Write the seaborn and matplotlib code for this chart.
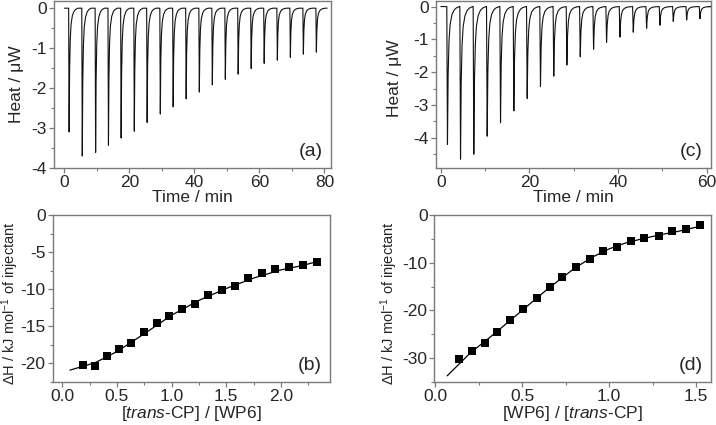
import matplotlib
matplotlib.use('Agg')
import matplotlib.pyplot as plt
from matplotlib.ticker import MultipleLocator
import pandas as pd
import seaborn as sns

# ---- raw thermograms (peak position / peak height) ----
peak_time_a = [1.45, 5.5, 9.6, 13.55, 17.45, 21.5, 25.45, 29.5, 33.45, 37.45,
               41.5, 45.5, 49.5, 53.45, 57.45, 61.45, 65.5, 69.5, 73.5, 77.5]
peak_heat_a = [-3.10, -3.70, -3.61, -3.43, -3.25, -3.08, -2.86, -2.65, -2.47, -2.27,
               -2.10, -1.92, -1.78, -1.65, -1.51, -1.38, -1.30, -1.23, -1.15, -1.10]
run_end_a = 80.8

peak_time_c = [1.5, 4.45, 7.45, 10.47, 13.48, 16.49, 19.5, 22.5, 25.5, 28.46,
               31.48, 34.49, 37.42, 40.44, 43.45, 46.46, 49.47, 52.48, 55.5, 58.5]
peak_heat_c = [-4.20, -4.65, -4.50, -3.95, -3.54, -3.18, -2.80, -2.44, -2.12, -1.78,
               -1.53, -1.30, -1.09, -0.93, -0.78, -0.66, -0.57, -0.45, -0.41, -0.37]
run_end_c = 60.6

# shape of one injection peak (min after the peak, fraction of peak height)
profile_offset = [-0.15, 0.0, 0.15, 0.35, 0.6, 1.0, 1.5, 2.0, 2.7]
profile_fraction = [0.0, 1.0, 0.5, 0.25, 0.13, 0.06, 0.025, 0.01, 0.0]

# ---- integrated heats ----
ratio_b = [0.185, 0.295, 0.408, 0.523, 0.633, 0.746, 0.865, 0.98, 1.096, 1.21,
           1.336, 1.458, 1.577, 1.701, 1.824, 1.948, 2.076, 2.204, 2.329]
dh_b = [-20.2, -20.4, -19.0, -18.1, -17.3, -15.8, -14.5, -13.6, -12.7, -11.95,
        -10.8, -10.1, -9.5, -8.5, -7.8, -7.3, -7.0, -6.7, -6.3]
fit_x_b = [0.07, 0.3, 0.5, 0.75, 1.0, 1.25, 1.5, 1.75, 2.0, 2.2, 2.35]
fit_y_b = [-20.9, -19.9, -18.4, -16.0, -13.5, -11.5, -9.9, -8.5, -7.4, -6.8, -6.2]

ratio_d = [0.136, 0.213, 0.286, 0.356, 0.433, 0.506, 0.583, 0.659, 0.732, 0.81,
           0.889, 0.966, 1.046, 1.123, 1.203, 1.284, 1.36, 1.44, 1.523]
dh_d = [-30.1, -28.5, -26.8, -24.5, -22.1, -19.7, -17.3, -15.0, -12.9, -10.9,
        -9.3, -7.6, -6.8, -5.5, -4.8, -4.3, -3.35, -2.9, -2.2]
fit_x_d = [0.07, 0.2, 0.35, 0.5, 0.65, 0.8, 0.9, 1.0, 1.1, 1.2, 1.3, 1.4, 1.53]
fit_y_d = [-33.7, -29.0, -24.6, -20.0, -15.4, -11.2, -8.9, -7.1, -5.8, -4.9, -4.1, -3.4, -2.3]

FS = 12.5
FRAME = '#7a7a7a'


def build_trace(peak_time, peak_heat, run_end):
    """Baseline with one peak per injection."""
    t, q = [0.0], [0.0]
    for tp, h in zip(peak_time, peak_heat):
        for off, f in zip(profile_offset, profile_fraction):
            t.append(tp + off)
            q.append(h * f)
    t.append(run_end)
    q.append(0.0)
    return pd.DataFrame({'time': t, 'heat': q})


def style_axes(ax, xmaj, xmin, ymaj, ymin, tag):
    for side in ax.spines.values():
        side.set_color(FRAME)
        side.set_linewidth(1.0)
    ax.xaxis.set_major_locator(MultipleLocator(xmaj))
    ax.xaxis.set_minor_locator(MultipleLocator(xmin))
    ax.yaxis.set_major_locator(MultipleLocator(ymaj))
    ax.yaxis.set_minor_locator(MultipleLocator(ymin))
    ax.tick_params(which='major', direction='out', length=3.5, width=0.9,
                   color=FRAME, labelsize=FS, pad=1.5)
    ax.tick_params(which='minor', direction='out', length=2, width=0.8, color=FRAME)
    ax.text(0.97, 0.05, tag, transform=ax.transAxes, ha='right', va='bottom', fontsize=14)


def plot_trace(ax, df, xlim, ylim, ylab_pos):
    sns.lineplot(data=df, x='time', y='heat', ax=ax, color='#111111', lw=0.8,
                 estimator=None, sort=False)
    ax.set_xlim(*xlim)
    ax.set_ylim(*ylim)
    ax.set_xlabel('Time / min', fontsize=FS, labelpad=0)
    ax.set_ylabel('Heat / μW', fontsize=FS)
    ax.yaxis.set_label_coords(*ylab_pos)


def plot_heats(ax, x, y, fx, fy, xlim, ylim, xlabel, ylab_pos):
    sns.lineplot(x=fx, y=fy, ax=ax, color='black', lw=0.9, estimator=None, sort=False)
    sns.scatterplot(x=x, y=y, ax=ax, marker='s', s=30, color='black', linewidth=0, zorder=3)
    ax.set_xlim(*xlim)
    ax.set_ylim(*ylim)
    ax.set_xlabel(xlabel, fontsize=FS, labelpad=0)
    ax.set_ylabel('ΔH / kJ mol$^{-1}$ of injectant', fontsize=10.5)
    ax.yaxis.set_label_coords(*ylab_pos)


def main():
    sns.set_theme(style='ticks')
    plt.rcParams['font.family'] = ['Liberation Sans', 'DejaVu Sans']
    plt.rcParams['mathtext.fontset'] = 'custom'
    plt.rcParams['mathtext.rm'] = 'Liberation Sans'
    plt.rcParams['mathtext.it'] = 'Liberation Sans:italic'
    plt.rcParams['axes.unicode_minus'] = False

    W, H = 716, 425
    fig = plt.figure(figsize=(W / 100, H / 100), dpi=100)

    def box(l, t, r, b):
        return fig.add_axes([l / W, 1 - b / H, (r - l) / W, (b - t) / H])

    ax_a = box(54, 1, 331, 168)
    ax_c = box(435.5, 1, 711, 168)
    ax_b = box(52.5, 215, 330, 382)
    ax_d = box(434.5, 215, 711, 382)

    plot_trace(ax_a, build_trace(peak_time_a, peak_heat_a, run_end_a),
               (-3.2, 82), (-4.0, 0.18), (-0.108, 0.50))
    style_axes(ax_a, 20, 10, 1, 0.5, '(a)')

    plot_trace(ax_c, build_trace(peak_time_c, peak_heat_c, run_end_c),
               (-1.2, 61), (-4.92, 0.17), (-0.122, 0.54))
    style_axes(ax_c, 20, 10, 1, 0.5, '(c)')

    plot_heats(ax_b, ratio_b, dh_b, fit_x_b, fit_y_b, (-0.09, 2.45), (-22.5, 0),
               '[$\\mathit{trans}$-CP] / [WP6]', (-0.112, 0.47))
    style_axes(ax_b, 0.5, 0.25, 5, 2.5, '(b)')
    ax_b.xaxis.set_major_formatter(lambda v, p: f'{v:.1f}')

    plot_heats(ax_d, ratio_d, dh_d, fit_x_d, fit_y_d, (-0.003, 1.585), (-35, 0),
               '[WP6] / [$\\mathit{trans}$-CP]', (-0.125, 0.47))
    style_axes(ax_d, 0.5, 0.25, 10, 5, '(d)')
    ax_d.xaxis.set_major_formatter(lambda v, p: f'{v:.1f}')

    fig.savefig('out.png', dpi=100)
    plt.close(fig)


if __name__ == '__main__':
    main()
